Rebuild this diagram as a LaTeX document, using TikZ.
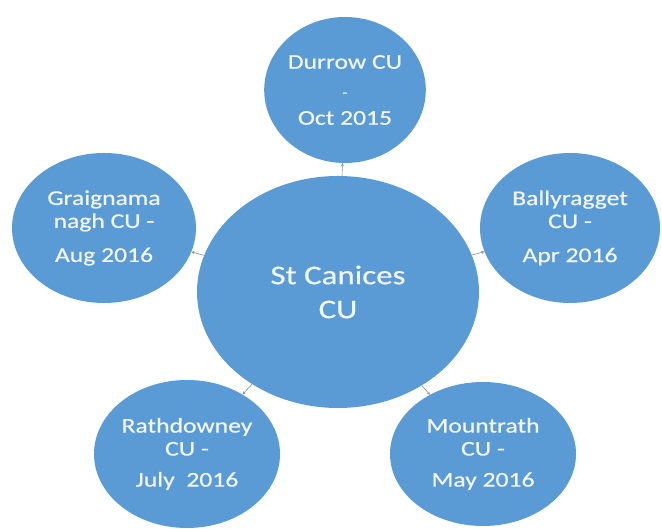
\documentclass[tikz,border=0pt]{standalone}
\usepackage{fontspec}
\setmainfont{Carlito}[FakeStretch=1.22,FakeBold=0.5]
\usetikzlibrary{shapes.geometric,arrows.meta}
\definecolor{bubble}{HTML}{5B9BD5}
\definecolor{label}{HTML}{F2F6FB}
\definecolor{linkgray}{HTML}{8A8F96}
\begin{document}
\begin{tikzpicture}[x=1pt,y=1pt,
  bubblebase/.style={ellipse,fill=bubble,draw=none,inner sep=0pt,
    text=label,align=center},
  hub/.style={bubblebase,font=\fontsize{27}{34}\selectfont},
  spoke/.style={bubblebase,font=\fontsize{21}{23}\selectfont},
  link/.style={draw=linkgray,line width=0.6pt,-{Stealth[length=3pt,width=3pt]}}]
\useasboundingbox (0,0) rectangle (662,529);
\fill[white] (0,0) rectangle (662,529);

% central credit union
\node[hub,minimum width=282,minimum height=232] (hubcu) at (338,237)
  {St Canices\\CU};

% surrounding branches
\node[spoke,minimum width=146,minimum height=146] (durrow) at (345,439)
  {Durrow CU\\[5pt]{\fontsize{13}{15}\selectfont -}\\[5pt]Oct 2015};
\node[spoke,minimum width=184,minimum height=150] (graig) at (104,301)
  {Graignama\\nagh CU -\\[11pt]Aug 2016};
\node[spoke,minimum width=180,minimum height=150] (bally) at (570,301)
  {Ballyragget\\CU -\\[11pt]Apr 2016};
\node[spoke,minimum width=186,minimum height=148] (rath) at (187,75)
  {Rathdowney\\CU -\\[8pt]July\ \ 2016};
\node[spoke,minimum width=186,minimum height=144] (mount) at (483,75)
  {Mountrath\\CU -\\[8pt]May 2016};

% short links from the hub to each branch
\foreach \b in {durrow,graig,bally,rath,mount}
  \draw[link] (hubcu) -- (\b);
\end{tikzpicture}
\end{document}
